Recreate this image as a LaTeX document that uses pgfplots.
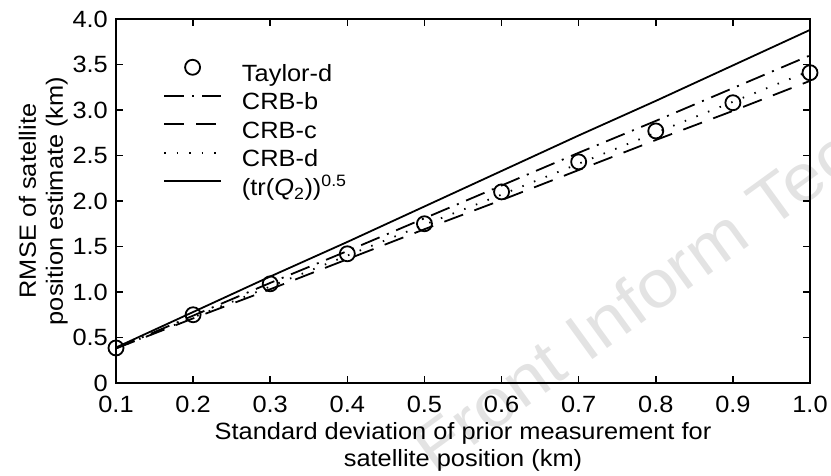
\documentclass[border=0pt]{standalone}
\usepackage{fontspec}
\setmainfont[FakeStretch=1.08]{Liberation Sans}
\usepackage{pgfplots}
\pgfplotsset{compat=1.18}
\begin{document}
\fontsize{23.5bp}{27bp}\selectfont
\begin{tikzpicture}
\node[rotate=36, anchor=base west, text=black!11, font=\fontsize{67bp}{67bp}\selectfont] at (312bp,-96bp) {Front Inform Tec};
\begin{axis}[
  at={(0,0)}, anchor=south west,
  scale only axis, width=694bp, height=364bp,
  xmin=0.1, xmax=1.0, ymin=0, ymax=4,
  clip=false,
  font=\fontsize{23.5bp}{27bp}\selectfont,
  /pgf/number format/assume math mode=true,
  xtick={0.1,0.2,0.3,0.4,0.5,0.6,0.7,0.8,0.9,1.0},
  xticklabels={0.1,0.2,0.3,0.4,0.5,0.6,0.7,0.8,0.9,1.0},
  ytick={0,0.5,1,1.5,2,2.5,3,3.5,4},
  yticklabels={0,0.5,1.0,1.5,2.0,2.5,3.0,3.5,4.0},
  tick align=inside,
  major tick length=7bp,
  tick style={line width=1.5bp, black},
  axis line style={line width=2bp},
  xticklabel style={inner sep=0pt, anchor=north, yshift=-13bp},
  yticklabel style={inner sep=0pt, anchor=east, xshift=-8bp},
  xlabel={Standard deviation of prior measurement for\\satellite position (km)},
  ylabel={RMSE of satellite\\position estimate (km)},
  xlabel style={at={(axis description cs:0.5,0)}, anchor=north, yshift=-39.5bp, inner sep=0pt, align=center},
  ylabel style={at={(axis description cs:0,0.5)}, anchor=south, yshift=48bp, inner sep=0pt, align=center},
  legend style={draw=none, fill=none, at={(0.0677,0.8885)}, anchor=north west,
    row sep=6.5bp, column sep=20bp, inner sep=0pt,
    nodes={inner sep=0pt, text height=17bp, text depth=5bp},
    font=\fontsize{23.5bp}{27bp}\selectfont},
  legend cell align=left,
  legend image code/.code={\draw[mark repeat=2,mark phase=2] plot coordinates {(0bp,8bp) (28.5bp,8bp) (57bp,8bp)};},
]
\addplot[only marks, mark=o, mark size=7.5bp, mark options={line width=1.8bp, solid}, black]
coordinates {(0.1,0.385)(0.2,0.75)(0.3,1.09)(0.4,1.42)(0.5,1.75)(0.6,2.10)(0.7,2.43)(0.8,2.77)(0.9,3.08)(1.0,3.41)};
\addlegendentry{Taylor-d}
\addplot[black, line width=1.8bp, dash pattern=on 20bp off 8bp on 2bp off 8bp]
coordinates {(0.1,0.38)(0.2,0.74)(0.3,1.10)(0.4,1.45)(0.5,1.81)(0.6,2.17)(0.7,2.53)(0.8,2.88)(0.9,3.24)(1.0,3.60)};
\addlegendentry{CRB-b}
\addplot[black, line width=1.8bp, dash pattern=on 20bp off 12bp]
coordinates {(0.1,0.38)(0.2,0.71)(0.3,1.03)(0.4,1.36)(0.5,1.69)(0.6,2.01)(0.7,2.34)(0.8,2.67)(0.9,2.99)(1.0,3.32)};
\addlegendentry{CRB-c}
\addplot[black, line width=1.8bp, dash pattern=on 1.5bp off 11bp]
coordinates {(0.1,0.38)(0.2,0.72)(0.3,1.06)(0.4,1.40)(0.5,1.74)(0.6,2.07)(0.7,2.41)(0.8,2.75)(0.9,3.09)(1.0,3.43)};
\addlegendentry{CRB-d}
\addplot[black, line width=1.8bp, solid]
coordinates {(0.1,0.39)(0.2,0.78)(0.3,1.17)(0.4,1.55)(0.5,1.94)(0.6,2.33)(0.7,2.72)(0.8,3.10)(0.9,3.49)(1.0,3.88)};
\addlegendentry{(tr(\textit{Q}\textsubscript{2}))\textsuperscript{0.5}}
\end{axis}
\pgfresetboundingbox
\useasboundingbox (-116bp,-93bp) rectangle (715bp,383bp);
\end{tikzpicture}
\end{document}
